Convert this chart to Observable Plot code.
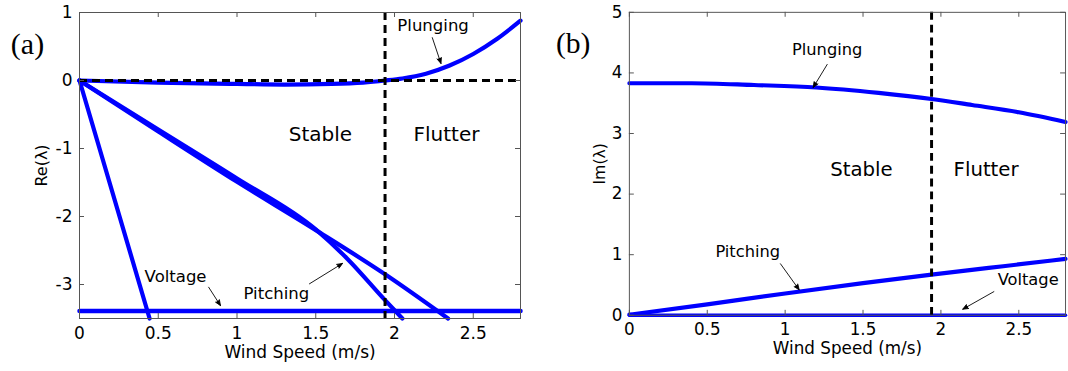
<!DOCTYPE html>
<html>
<head>
<meta charset="utf-8">
<script src="https://cdn.jsdelivr.net/npm/d3@7"></script>
<script src="https://cdn.jsdelivr.net/npm/@observablehq/plot@0.6"></script>
<style>
  html, body { margin: 0; padding: 0; background: white; overflow: hidden; }
  #wrap { position: relative; width: 1068px; height: 371px; overflow: hidden; background: white; }
  #pa { position: absolute; left: 0; top: 0; }
  #pb { position: absolute; left: 545px; top: 0; }
  svg { display: block; }
</style>
</head>
<body>
<div id="wrap"><div id="pa"></div><div id="pb"></div></div>
<script>
// ---------- shared ----------
const xTicks = [0, 0.5, 1, 1.5, 2, 2.5];
const flutterSpeed = [1.94];
const regimeText = ["Stable", "Flutter"];
const modeText = ["Plunging", "Voltage", "Pitching"];

// ---------- panel (a): real parts ----------
const aYTicks = [-3, -2, -1, 0, 1];
const aPlungeX = [0, 0.5, 1.0, 1.3, 1.6, 1.8, 1.94, 2.05, 2.2, 2.35, 2.5, 2.65, 2.8];
const aPlungeY = [0, -0.03, -0.05, -0.06, -0.05, -0.03, 0, 0.03, 0.1, 0.22, 0.39, 0.61, 0.88];
const aVoltX = [0, 2.8];
const aVoltY = [-3.39, -3.39];
const aSteepX = [0, 0.445];
const aSteepY = [0, -3.5];
const aPitchUX = [0, 0.5, 1.0, 1.5, 1.94, 2.34];
const aPitchUY = [0, -0.75, -1.49, -2.2, -2.85, -3.5];
const aPitchLX = [0, 0.5, 1.0, 1.5, 1.7, 1.94, 2.05];
const aPitchLY = [0, -0.72, -1.44, -2.19, -2.62, -3.23, -3.5];
const aRegimeX = [1.53, 2.33];
const aRegimeY = [-0.79, -0.79];
const aModeX = [2.245, 0.61, 1.25];
const aModeY = [0.81, -2.88, -3.13];
const aArrowX1 = [2.24, 0.82, 1.46];
const aArrowY1 = [0.63, -3.04, -2.99];
const aArrowX2 = [2.295, 0.895, 1.67];
const aArrowY2 = [0.25, -3.31, -2.69];

// ---------- panel (b): imaginary parts ----------
const bYTicks = [0, 1, 2, 3, 4, 5];
const bPlungeX = [0, 0.4, 0.8, 1.2, 1.6, 1.94, 2.2, 2.5, 2.8];
const bPlungeY = [3.83, 3.83, 3.80, 3.76, 3.67, 3.57, 3.47, 3.35, 3.19];
const bPitchX = [0, 0.5, 1.0, 1.5, 1.94, 2.4, 2.8];
const bPitchY = [0.01, 0.18, 0.36, 0.53, 0.67, 0.81, 0.93];
const bVoltX = [0, 2.8];
const bVoltY = [0, 0];
const bRegimeX = [1.49, 2.29];
const bRegimeY = [2.41, 2.41];
const bModeX = [1.27, 2.56, 0.76];
const bModeY = [4.38, 0.59, 1.04];
const bArrowX1 = [1.27, 2.34, 0.97];
const bArrowY1 = [4.14, 0.39, 0.85];
const bArrowX2 = [1.18, 2.14, 1.09];
const bArrowY2 = [3.76, 0.10, 0.42];

// ---------- helpers ----------
const pts = (xs, ys) => xs.map((x, i) => ({x, y: ys[i]}));
const labelRows = (t, xs, ys) => t.map((s, i) => ({t: s, x: xs[i], y: ys[i]}));
const arrowRows = (x1, y1, x2, y2) => x1.map((_, i) => ({x1: x1[i], y1: y1[i], x2: x2[i], y2: y2[i]}));
const fmt = d => (d < 0 ? "-" + Math.abs(d) : String(d));
const BLUE = "#0000ff";

function panel({width, marginLeft, marginRight, marginBottom, yDomain, yTicks, series, regimes, modes, arrows, zeroRule, yLabel, yLabelDx, tag, tagDx}) {
  const marginTop = 12, height = 371;
  const fh = height - marginTop - marginBottom;
  const fw = width - marginLeft - marginRight;
  const lineMarks = series.map(s => Plot.line(s.data, {x: "x", y: "y", stroke: BLUE, strokeWidth: s.w || 4.2, curve: s.curve || "linear"}));
  return Plot.plot({
    width, height, marginLeft, marginRight, marginTop, marginBottom,
    style: {fontFamily: "'DejaVu Sans', sans-serif", fontSize: "17px", color: "black", background: "white", overflow: "visible"},
    x: {domain: [0, 2.8], ticks: xTicks, tickSize: 0, tickPadding: 8, tickFormat: fmt, label: null},
    y: {domain: yDomain, ticks: yTicks, tickSize: 0, tickPadding: 7, tickFormat: fmt, label: null},
    marks: [
      ...lineMarks,
      zeroRule ? Plot.ruleY([0], {stroke: "black", strokeWidth: 3, strokeDasharray: "8,5"}) : null,
      Plot.ruleX(flutterSpeed, {stroke: "black", strokeWidth: 3, strokeDasharray: "8,5"}),
      Plot.frame({stroke: "#555", strokeWidth: 1}),
      // inward MATLAB-style ticks on all four sides
      Plot.tickX(xTicks, {x: d => d, insetTop: fh - 5, stroke: "#555"}),
      Plot.tickX(xTicks, {x: d => d, insetBottom: fh - 5, stroke: "#555"}),
      Plot.tickY(yTicks, {y: d => d, insetRight: fw - 5, stroke: "#555"}),
      Plot.tickY(yTicks, {y: d => d, insetLeft: fw - 5, stroke: "#555"}),
      Plot.text(regimes, {x: "x", y: "y", text: "t", fontSize: 20, fill: "black"}),
      Plot.text(modes, {x: "x", y: "y", text: "t", fontSize: 16.5, fill: "black"}),
      Plot.arrow(arrows, {x1: "x1", y1: "y1", x2: "x2", y2: "y2", stroke: "black", fill: "black", strokeWidth: 0.9, headLength: 10, headAngle: 45}),
      Plot.text(["Wind Speed (m/s)"], {frameAnchor: "bottom", dy: 39, fontSize: 17, fill: "black"}),
      Plot.text([yLabel], {frameAnchor: "left", dx: yLabelDx, rotate: -90, textAnchor: "middle", fontSize: 16, fill: "black"}),
      Plot.text([tag], {frameAnchor: "top-left", dx: tagDx, dy: 20, textAnchor: "middle", fontSize: 30, fontFamily: "'Liberation Serif', serif", fill: "black"})
    ].filter(Boolean)
  });
}

const svgA = panel({
  width: 540, marginLeft: 79, marginRight: 20, marginBottom: 53,
  yDomain: [-3.5, 1], yTicks: aYTicks,
  series: [
    {data: pts(aVoltX, aVoltY), w: 4.5},
    {data: pts(aSteepX, aSteepY)},
    {data: pts(aPitchUX, aPitchUY), curve: "monotone-x"},
    {data: pts(aPitchLX, aPitchLY), curve: "monotone-x"},
    {data: pts(aPlungeX, aPlungeY), curve: "monotone-x"}
  ],
  regimes: labelRows(regimeText, aRegimeX, aRegimeY),
  modes: labelRows(modeText, aModeX, aModeY),
  arrows: arrowRows(aArrowX1, aArrowY1, aArrowX2, aArrowY2),
  zeroRule: true, yLabel: "Re(λ)", yLabelDx: -38, tag: "(a)", tagDx: -52
});
document.getElementById("pa").appendChild(svgA);

const svgB = panel({
  width: 530, marginLeft: 85, marginRight: 3, marginBottom: 52,
  yDomain: [0, 5], yTicks: bYTicks,
  series: [
    {data: pts(bVoltX, bVoltY), w: 3.5},
    {data: pts(bPitchX, bPitchY), curve: "monotone-x"},
    {data: pts(bPlungeX, bPlungeY), curve: "monotone-x"}
  ],
  regimes: labelRows(regimeText, bRegimeX, bRegimeY),
  modes: labelRows(modeText, bModeX, bModeY),
  arrows: arrowRows(bArrowX1, bArrowY1, bArrowX2, bArrowY2),
  zeroRule: false, yLabel: "Im(λ)", yLabelDx: -30, tag: "(b)", tagDx: -57
});
document.getElementById("pb").appendChild(svgB);
</script>
</body>
</html>
